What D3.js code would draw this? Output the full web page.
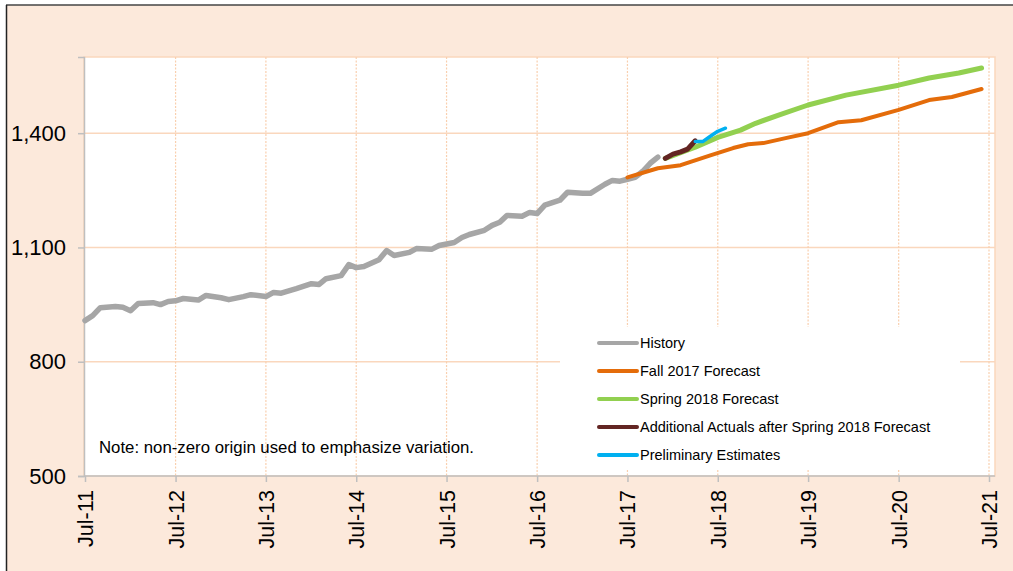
<!DOCTYPE html>
<html>
<head>
<meta charset="utf-8">
<script src="https://cdn.jsdelivr.net/npm/d3@7"></script>
<style>
  body { margin: 0; background: #fff; }
  svg { display: block; font-family: "Liberation Sans", Arial, sans-serif; }
</style>
</head>
<body>
<div id="chart"></div>
<script>
const historyDates = ["2011-07","2011-08","2011-09","2011-11","2011-12","2012-01","2012-02","2012-04","2012-05","2012-06",
  "2012-07","2012-08","2012-10","2012-11","2013-01","2013-02","2013-04","2013-05","2013-07","2013-08","2013-09","2013-11",
  "2014-01","2014-02","2014-03","2014-05","2014-06","2014-07","2014-08","2014-10","2014-11","2014-12","2015-02","2015-03",
  "2015-05","2015-06","2015-08","2015-09","2015-10","2015-12","2016-01","2016-02","2016-03","2016-05","2016-06","2016-07",
  "2016-08","2016-10","2016-11","2017-01","2017-02","2017-04","2017-05","2017-06","2017-07","2017-08","2017-09","2017-10","2017-11"];
const historyValues = [908,921,942,945,943,934,953,955,950,958,
  960,966,962,974,968,963,971,976,971,982,980,992,
  1005,1003,1018,1026,1055,1047,1050,1068,1092,1079,1087,1097,
  1095,1105,1113,1126,1134,1145,1158,1166,1184,1182,1192,1189,
  1211,1224,1245,1242,1242,1266,1276,1274,1279,1284,1300,1321,1337];

const fallDates = ["2017-07","2017-11","2018-02","2018-06","2018-09","2018-11","2019-01","2019-04","2019-07","2019-11","2020-02","2020-07","2020-11","2021-02","2021-06"];
const fallValues = [1284,1308,1316,1342,1361,1371,1374,1387,1400,1429,1434,1461,1487,1495,1516];

const springDates = ["2017-12","2018-04","2018-07","2018-10","2018-12","2019-03","2019-07","2019-12","2020-07","2020-11","2021-03","2021-06"];
const springValues = [1334,1363,1389,1408,1426,1447,1474,1500,1526,1545,1558,1571];

const actualDates = ["2017-12","2018-01","2018-02","2018-03","2018-04"];
const actualValues = [1334,1345,1351,1358,1380];

const prelimDates = ["2018-04","2018-05","2018-06","2018-07","2018-08"];
const prelimValues = [1378,1378,1392,1405,1413];

const yTicks = [500, 800, 1100, 1400];
const xTickYears = [2011,2012,2013,2014,2015,2016,2017,2018,2019,2020,2021];

const seriesNames = ["History","Fall 2017 Forecast","Spring 2018 Forecast","Additional Actuals after Spring 2018 Forecast","Preliminary Estimates"];

const parse = d3.timeParse("%Y-%m");
const zip = (ds, vs) => ds.map((d, i) => ({ date: parse(d), value: vs[i] }));

const series = [
  { name: seriesNames[0], data: zip(historyDates, historyValues), color: "#A6A6A6", width: 5.5 },
  { name: seriesNames[1], data: zip(fallDates, fallValues), color: "#E46C0A", width: 4 },
  { name: seriesNames[2], data: zip(springDates, springValues), color: "#92D050", width: 5 },
  { name: seriesNames[3], data: zip(actualDates, actualValues), color: "#632523", width: 5 },
  { name: seriesNames[4], data: zip(prelimDates, prelimValues), color: "#00B0F0", width: 3.5 }
];

const width = 1013, height = 571;
const plot = { left: 84, right: 995, top: 57, bottom: 476 };

const svg = d3.select("#chart").append("svg")
  .attr("width", width)
  .attr("height", height);

// background + frame
svg.append("rect").attr("x", 6).attr("y", 5).attr("width", width - 6).attr("height", height - 5).attr("fill", "#FCE9DB");
svg.append("line").attr("x1", 6).attr("x2", width).attr("y1", 5).attr("y2", 5).attr("stroke", "#444").attr("stroke-width", 1.5);
svg.append("line").attr("x1", 6.5).attr("x2", 6.5).attr("y1", 5).attr("y2", height).attr("stroke", "#222").attr("stroke-width", 1.5);

svg.append("rect")
  .attr("x", plot.left).attr("y", plot.top)
  .attr("width", plot.right - plot.left).attr("height", plot.bottom - plot.top)
  .attr("fill", "#fff").attr("stroke", "#FAD7BD").attr("stroke-width", 1.5);

const x = d3.scaleTime()
  .domain([new Date(2011, 6, 1), new Date(2021, 6, 1)])
  .range([85, 989]);

const y = d3.scaleLinear()
  .domain([500, 1600])
  .range([plot.bottom, plot.top]);

// grid
svg.append("g").selectAll("line")
  .data(yTicks.slice(1))
  .join("line")
  .attr("x1", plot.left).attr("x2", plot.right)
  .attr("y1", d => y(d)).attr("y2", d => y(d))
  .attr("stroke", "#FAD7BD").attr("stroke-width", 1.5);

svg.append("g").selectAll("line")
  .data(xTickYears.slice(1))
  .join("line")
  .attr("x1", d => x(new Date(d, 6, 1))).attr("x2", d => x(new Date(d, 6, 1)))
  .attr("y1", plot.top).attr("y2", plot.bottom)
  .attr("stroke", "#F9CFAE").attr("stroke-width", 1.2)
  .attr("stroke-dasharray", "2,1.5");

// legend backdrop hides grid under it
svg.append("rect").attr("x", 560).attr("y", 327).attr("width", 400).attr("height", 143).attr("fill", "#fff");

// axes
const yAxis = svg.append("g")
  .attr("transform", `translate(${plot.left},0)`)
  .call(d3.axisLeft(y).tickValues(yTicks).tickFormat(d3.format(",")).tickSize(6).tickPadding(12));
yAxis.select(".domain").attr("stroke", "#BFBFBF").attr("stroke-width", 1.5);
yAxis.selectAll(".tick line").attr("stroke", "#BFBFBF").attr("stroke-width", 1.5);
yAxis.selectAll(".tick text").attr("font-size", 22).attr("fill", "#000")
  .attr("font-family", "Liberation Sans, Arial, sans-serif");

const xAxis = svg.append("g")
  .attr("transform", `translate(0,${plot.bottom})`)
  .call(d3.axisBottom(x)
    .tickValues(xTickYears.map(yr => new Date(yr, 6, 1)))
    .tickFormat(d3.timeFormat("Jul-%y"))
    .tickSize(6));
xAxis.select(".domain").attr("stroke", "#BFBFBF").attr("stroke-width", 1.5).attr("d", `M${plot.left},0H${plot.right}`);
xAxis.selectAll(".tick line").attr("stroke", "#BFBFBF").attr("stroke-width", 1.5);
xAxis.selectAll(".tick text")
  .attr("font-size", 21.5).attr("fill", "#000")
  .attr("font-family", "Liberation Sans, Arial, sans-serif")
  .attr("text-anchor", "end")
  .attr("dy", "0.35em")
  .attr("transform", "translate(0,14) rotate(-90)")
  .attr("x", 0).attr("y", 0);

// lines
const line = d3.line()
  .x(d => x(d.date))
  .y(d => y(d.value));

svg.append("g").selectAll("path")
  .data(series)
  .join("path")
  .attr("d", d => line(d.data))
  .attr("fill", "none")
  .attr("stroke", d => d.color)
  .attr("stroke-width", d => d.width)
  .attr("stroke-linejoin", "round")
  .attr("stroke-linecap", "round");

// note
svg.append("text")
  .attr("x", 99).attr("y", 453)
  .attr("font-size", 16.8).attr("fill", "#000")
  .text("Note: non-zero origin used to emphasize variation.");

// legend
const legend = svg.append("g").attr("transform", "translate(599,343)");
series.forEach((s, i) => {
  const row = legend.append("g").attr("transform", `translate(0,${i * 28})`);
  row.append("line").attr("x1", 0).attr("x2", 38).attr("y1", 0).attr("y2", 0)
    .attr("stroke", s.color).attr("stroke-width", 4).attr("stroke-linecap", "round");
  row.append("text").attr("x", 41).attr("y", 5).attr("font-size", 14.5).attr("fill", "#000").text(s.name);
});
</script>
</body>
</html>
